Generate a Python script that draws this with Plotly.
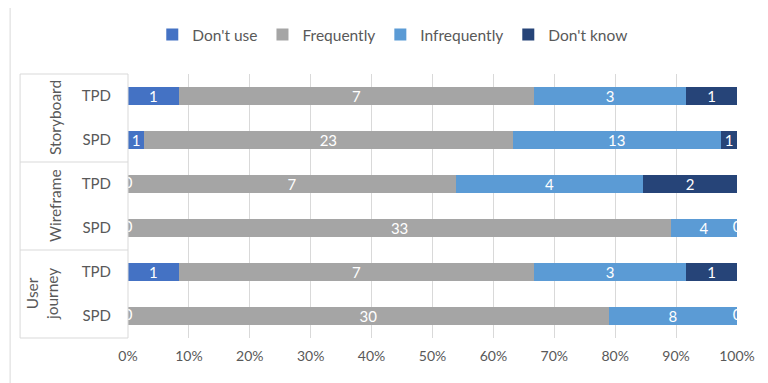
import plotly.graph_objects as go

# ---- data (bottom to top) ----
groups = ["User<br>journey", "Wireframe", "Storyboard"]
subs = ["SPD", "TPD"]
series_names = ["Don't use", "Frequently", "Infrequently", "Don't know"]
dont_use = [0, 1, 0, 0, 1, 1]
frequently = [30, 7, 33, 7, 23, 7]
infrequently = [8, 3, 4, 4, 13, 3]
dont_know = [0, 1, 0, 2, 1, 1]
colors = ["#4472C4", "#A5A5A5", "#5B9BD5", "#264478"]
x_ticks = list(range(0, 101, 10))

series = [dont_use, frequently, infrequently, dont_know]
n = len(dont_use)
rows = list(range(n))
row_labels = [subs[i % 2] for i in rows]
totals = [sum(s[i] for s in series) for i in rows]

FONT = "Lato"
fig = go.Figure()
cum = [0.0] * n
zero_x, zero_y = [], []
for name, vals, col in zip(series_names, series, colors):
    pct = [v / t * 100 for v, t in zip(vals, totals)]
    fig.add_trace(go.Bar(
        y=rows, x=pct, base=cum[:], orientation="h", name=name,
        marker=dict(color=col, line=dict(width=0)),
        text=[str(v) if v else "" for v in vals],
        textposition="inside", insidetextanchor="middle", textangle=0,
        textfont=dict(color="white", size=15, family=FONT),
        constraintext="none",
    ))
    for i, v in enumerate(vals):
        if v == 0:
            zero_x.append(cum[i])
            zero_y.append(i)
    cum = [c + p for c, p in zip(cum, pct)]

fig.add_trace(go.Scatter(
    x=zero_x, y=zero_y, mode="text", text=["0"] * len(zero_x),
    textposition="middle center", cliponaxis=True, showlegend=False,
    textfont=dict(color="white", size=15, family=FONT), hoverinfo="skip",
))

L, R, T, B = 128, 737.5, 74, 338
W, H = 768, 383
pw, ph = R - L, B - T
def px(xp):
    return (xp - L) / pw
def py(yp):
    return (B - yp) / ph

line = dict(color="#D9D9D9", width=1)
shapes = [
    dict(type="line", xref="paper", yref="paper", x0=px(10), x1=px(10), y0=py(8), y1=py(383), line=line),
    dict(type="line", xref="paper", yref="paper", x0=px(20), x1=px(20), y0=0, y1=1, line=line),
    dict(type="line", xref="paper", yref="paper", x0=px(20), x1=0, y0=0, y1=0, line=line),
    dict(type="line", xref="paper", yref="paper", x0=px(20), x1=0, y0=1, y1=1, line=line),
    dict(type="line", xref="paper", yref="paper", x0=0, x1=0, y0=0, y1=1, line=line),
]
for g in range(1, len(groups)):
    shapes.append(dict(type="line", xref="paper", yref="y", x0=px(20), x1=0,
                       y0=2 * g - 0.5, y1=2 * g - 0.5, line=line))

annotations = []
for g, gname in enumerate(groups):
    two_line = "<br>" in gname
    annotations.append(dict(
        xref="paper", yref="y", x=px(42 if two_line else 55), y=2 * g + 0.5, text=gname,
        textangle=-90, showarrow=False, xanchor="center", yanchor="middle",
        font=dict(size=15.5, color="#595959", family=FONT),
    ))

fig.update_layout(
    width=W, height=H, margin=dict(l=L, r=W - R, t=T, b=H - B, pad=0),
    paper_bgcolor="white", plot_bgcolor="white",
    barmode="stack", bargap=0.6,
    showlegend=True,
    legend=dict(orientation="h", x=px(393), xanchor="center", y=py(35), yanchor="middle",
                font=dict(size=15.5, color="#595959", family=FONT), traceorder="normal",
                itemwidth=30, tracegroupgap=0),
    xaxis=dict(range=[0, 100], tickvals=x_ticks, ticktext=[f"{t}%" for t in x_ticks],
               showgrid=True, gridcolor="#D9D9D9", gridwidth=1, zeroline=False,
               showline=False, ticks="", ticklabelstandoff=8,
               tickfont=dict(size=14, color="#595959", family=FONT), fixedrange=True),
    yaxis=dict(range=[-0.5, n - 0.5], tickvals=rows, ticktext=row_labels,
               showgrid=False, zeroline=False, showline=False, ticks="",
               ticklabelstandoff=16,
               tickfont=dict(size=15, color="#595959", family=FONT), fixedrange=True),
    shapes=shapes, annotations=annotations,
)
fig.write_html("out.html")
